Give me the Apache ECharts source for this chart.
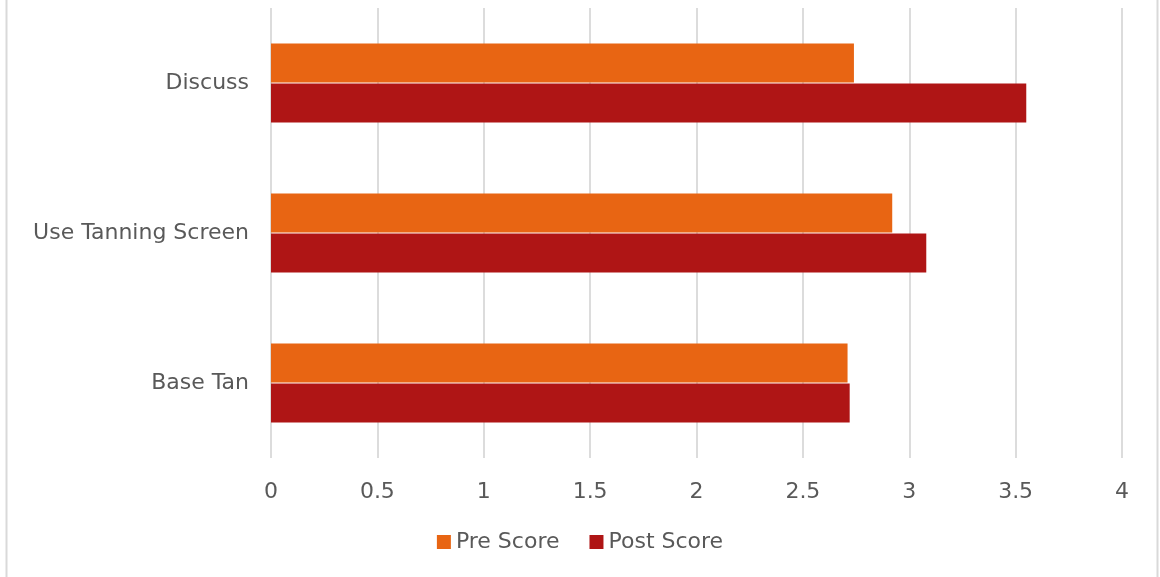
<!DOCTYPE html>
<html>
<head>
<meta charset="utf-8">
<script src="https://cdn.jsdelivr.net/npm/echarts@6/dist/echarts.min.js"></script>
<style>
html,body{margin:0;padding:0;background:#fff;}
#c{width:1160px;height:577px;}
</style>
</head>
<body>
<div id="c"></div>
<script>
const categories = ['Base Tan', 'Use Tanning Screen', 'Discuss'];
const preScore = [2.71, 2.92, 2.74];
const postScore = [2.72, 3.08, 3.55];
const xTicks = [0, 0.5, 1, 1.5, 2, 2.5, 3, 3.5, 4];

const font = 'DejaVu Sans';
const chart = echarts.init(document.getElementById('c'), null, {renderer: 'canvas'});
chart.setOption({
  animation: false,
  backgroundColor: '#fff',
  color: ['#E86513', '#AF1515'],
  textStyle: {fontFamily: font},
  grid: {left: 271, right: 38, top: 8, bottom: 119, containLabel: false},
  legend: {
    data: ['Pre Score', 'Post Score'],
    bottom: 19,
    left: 'center',
    icon: 'rect',
    itemWidth: 14,
    itemHeight: 14,
    itemGap: 30,
    textStyle: {fontSize: 22, color: '#595959', fontFamily: font}
  },
  xAxis: {
    type: 'value',
    min: 0, max: 4, interval: 0.5,
    axisLine: {show: false},
    axisTick: {show: false},
    splitLine: {show: true, lineStyle: {color: '#dcdcdc', width: 2}},
    axisLabel: {
      fontSize: 22, color: '#595959', margin: 23, fontFamily: font,
      formatter: function (v) { return xTicks.indexOf(v) >= 0 ? String(v) : ''; }
    }
  },
  yAxis: {
    type: 'category',
    data: categories,
    axisLine: {show: false},
    axisTick: {show: false},
    splitLine: {show: false},
    axisLabel: {fontSize: 22, color: '#595959', margin: 22, fontFamily: font}
  },
  series: [
    {name: 'Pre Score', type: 'bar', data: preScore, barWidth: 39, barGap: '3%',
     itemStyle: {color: '#E86513'}},
    {name: 'Post Score', type: 'bar', data: postScore, barWidth: 39, barGap: '3%',
     itemStyle: {color: '#AF1515'}}
  ],
  graphic: [
    {type: 'line', shape: {x1: 6.5, y1: 0, x2: 6.5, y2: 577}, style: {stroke: '#d9d9d9', lineWidth: 2}},
    {type: 'line', shape: {x1: 1157.5, y1: 0, x2: 1157.5, y2: 577}, style: {stroke: '#d9d9d9', lineWidth: 2}}
  ]
});
</script>
</body>
</html>
